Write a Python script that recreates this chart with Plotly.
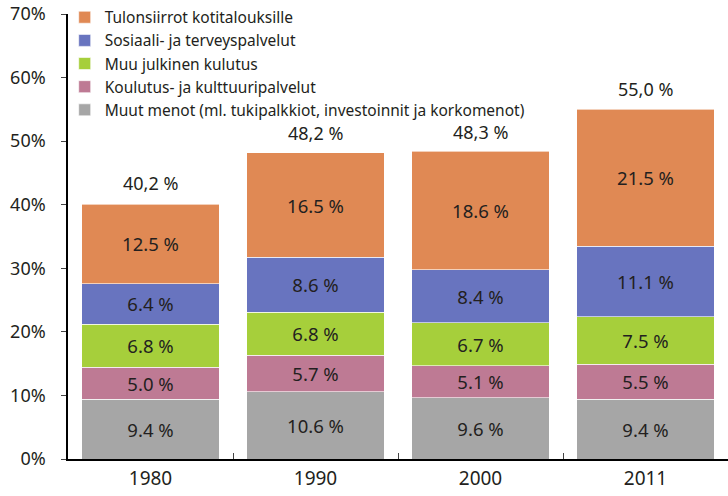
import plotly.graph_objects as go

years = ["1980", "1990", "2000", "2011"]
series_names = [
    "Muut menot (ml. tukipalkkiot, investoinnit ja korkomenot)",
    "Koulutus- ja kulttuuripalvelut",
    "Muu julkinen kulutus",
    "Sosiaali- ja terveyspalvelut",
    "Tulonsiirrot kotitalouksille",
]
muut = [9.4, 10.6, 9.6, 9.4]
koulutus = [5.0, 5.7, 5.1, 5.5]
muu_julk = [6.8, 6.8, 6.7, 7.5]
sosiaali = [6.4, 8.6, 8.4, 11.1]
tulonsiirrot = [12.5, 16.5, 18.6, 21.5]
totals = [40.2, 48.2, 48.3, 55.0]
total_labels = ["40,2 %", "48,2 %", "48,3 %", "55,0 %"]
y_ticks = [0, 10, 20, 30, 40, 50, 60, 70]

colors = ["#A6A6A6", "#BE7A94", "#A6CF3B", "#6874BF", "#E08954"]
values = [muut, koulutus, muu_julk, sosiaali, tulonsiirrot]

FONT = "Noto Sans"
fig = go.Figure()
for name, vals, col in zip(series_names, values, colors):
    fig.add_trace(go.Bar(
        x=years, y=vals, name=name,
        marker=dict(color=col, line=dict(color="rgba(255,255,255,0.6)", width=1)),
        text=[f"{v:.1f} %" for v in vals],
        textposition="inside", insidetextanchor="middle", textangle=0,
        textfont=dict(family=FONT, size=18.5, color="#231F20"),
        hoverinfo="skip",
    ))

for i, (tot, lab) in enumerate(zip(totals, total_labels)):
    fig.add_annotation(
        x=i, y=tot, text=lab, showarrow=False,
        yanchor="bottom", yshift=6,
        font=dict(family=FONT, size=18, color="#231F20"),
    )

fig.update_layout(
    width=728, height=496,
    margin=dict(l=68, r=0, t=14, b=37),
    barmode="stack", bargap=0.165,
    plot_bgcolor="white", paper_bgcolor="white",
    font=dict(family=FONT, color="#231F20"),
    showlegend=True,
    legend=dict(
        x=-0.005, y=1.03, xanchor="left", yanchor="top",
        traceorder="reversed", bgcolor="rgba(0,0,0,0)",
        font=dict(family=FONT, size=15.5, color="#231F20"),
        tracegroupgap=0, itemwidth=30,
    ),
    uniformtext=dict(minsize=10, mode="show"),
)
fig.update_yaxes(
    range=[0, 70], tickvals=y_ticks,
    ticktext=[f"{t}%\u2002\u2009" for t in y_ticks],
    showgrid=False, zeroline=False,
    showline=True, linecolor="black", linewidth=1.5,
    ticks="outside", ticklen=5, tickcolor="#444",
    tickfont=dict(family=FONT, size=18, color="#231F20"),
)
fig.update_xaxes(
    type="category", categoryorder="array", categoryarray=years,
    range=[-0.5, 3.5],
    showgrid=False, showline=True, linecolor="black", linewidth=1.5,
    ticks="inside", ticklen=6, tickcolor="#444", tickson="boundaries",
    ticklabelstandoff=1,
    tickfont=dict(family=FONT, size=19, color="#231F20"),
)
fig.write_html("out.html", config={"displayModeBar": False},
               post_script="document.body.style.margin='0';")
